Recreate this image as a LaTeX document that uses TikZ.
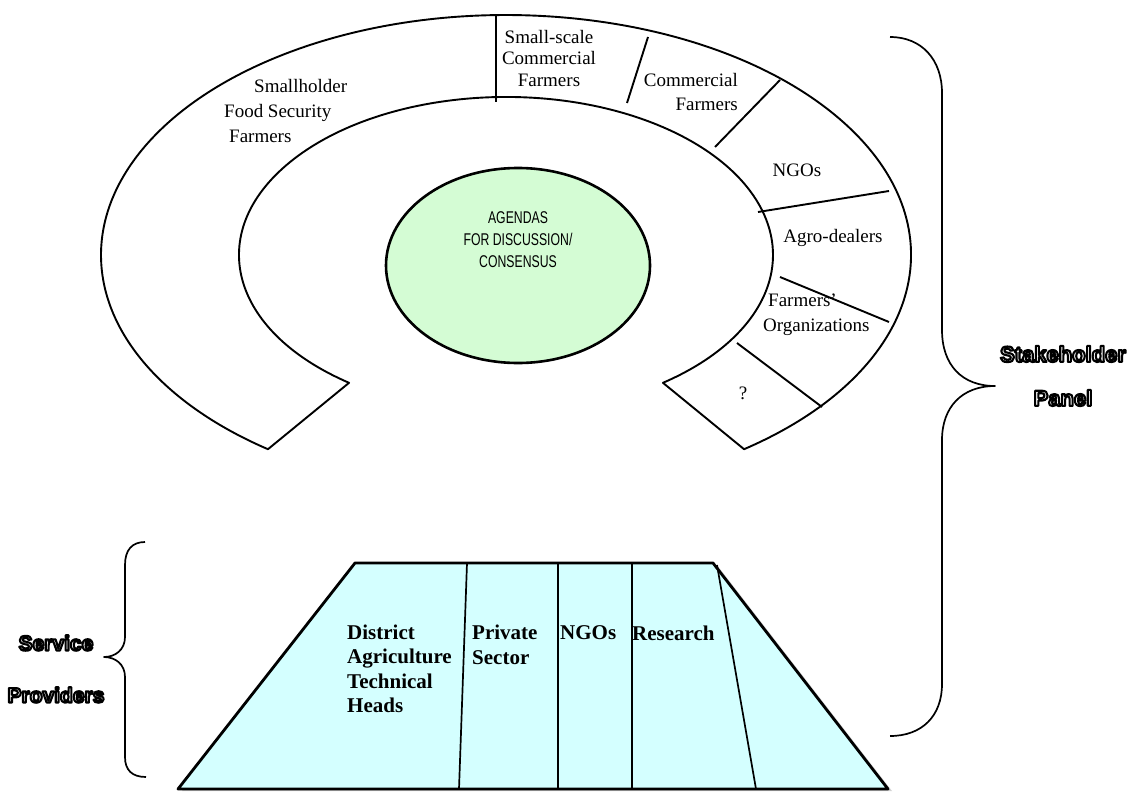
\documentclass[tikz,border=0pt]{standalone}
\usepackage{fontspec}
\setmainfont{Liberation Serif}
\newfontfamily\agfont[FakeStretch=0.72]{Liberation Sans}
\newfontfamily\outfont{Liberation Sans}
\usetikzlibrary{shapes.geometric,calc,shadows}
\definecolor{agendagreen}{RGB}{212,252,212}
\definecolor{trapcyan}{RGB}{212,255,255}
\newcommand\strokedtext[1]{\special{pdf:literal direct 1 Tr 2.1 w}#1\special{pdf:literal direct 0 Tr}}
\begin{document}
\begin{tikzpicture}[x=1pt, y=-1pt, line join=round,
  ringline/.style={draw, line width=1.9pt},
  ringtext/.style={font=\fontsize{19}{24}\selectfont, inner sep=0pt},
  traptext/.style={font=\fontsize{21}{24.5}\selectfont\bfseries, inner sep=0pt, align=left, anchor=west},
  outl/.style={font=\outfont\fontsize{22}{44}\selectfont\bfseries, align=center, inner sep=0pt},
  outlsvc/.style={font=\outfont\fontsize{21}{52}\selectfont\bfseries, align=center, inner sep=0pt},
  bracepath/.style={draw, line width=1.7pt}]
\useasboundingbox (0,0) rectangle (1131,792);

% horseshoe ring
\draw[ringline] (744.06,449.2) arc[start angle=-54, end angle=234, x radius=405pt, y radius=240pt]
  -- (349.06,382.8) arc[start angle=234, end angle=-54, x radius=267pt, y radius=158pt] -- cycle;

% dividers in the ring
\draw[ringline] (496,15) -- (496,102);
\draw[ringline] (648,37) -- (627,103);
\draw[ringline] (780,80) -- (715,147);
\draw[ringline] (889,191) -- (758,212);
\draw[ringline] (780,277) -- (889,322);
\draw[ringline] (737,343) -- (822,407);

% ring labels
\node[ringtext, align=left, anchor=west, font=\fontsize{19}{25}\selectfont] (smallholder) at (224,111)
  {\hspace*{30pt}Smallholder\\Food Security\\\hspace*{5pt}Farmers};
\node[ringtext, align=center, font=\fontsize{19}{21.5}\selectfont] (sscf) at (549,58.5) {Small-scale\\Commercial\\Farmers};
\node[ringtext, align=right, anchor=east] (cf) at (738,92) {Commercial\\Farmers};
\node[ringtext] (ngosring) at (797,170) {NGOs};
\node[ringtext] (agro) at (833,238) {Agro-dealers};
\node[ringtext, align=left, anchor=west, font=\fontsize{19}{25}\selectfont] (fo) at (763,315)
  {\hspace*{5pt}Farmers’\\Organizations};
\node[ringtext] (qmark) at (743,393) {?};

% central agenda ellipse
\node[draw, ellipse, fill=agendagreen, line width=2.6pt, minimum width=264pt, minimum height=195pt, inner sep=0pt] (agenda) at (518,265.5) {};
\node[font=\agfont\fontsize{17}{22}\selectfont, align=center, inner sep=0pt] (agendatext) at (518,240)
  {AGENDAS\\FOR DISCUSSION/\\CONSENSUS};

% service providers trapezoid
\draw[line width=2.8pt, fill=trapcyan, drop shadow={opacity=0.35, shadow xshift=4pt, shadow yshift=-2pt}]
  (178,789) -- (355,563) -- (713,563) -- (888,789) -- cycle;
\draw[line width=1.7pt] (467,563) -- (459,789);
\draw[line width=1.7pt] (558,563) -- (558,789);
\draw[line width=1.7pt] (632,563) -- (632,789);
\draw[line width=1.7pt] (717,565) -- (756,789);

\node[traptext] (district) at (347,669) {District\\Agriculture\\Technical\\Heads};
\node[traptext] (private) at (472,645) {Private\\Sector};
\node[traptext] (ngostrap) at (560,633) {NGOs};
\node[traptext] (research) at (632,633) {Research};

% braces
\draw[bracepath] (890,37) .. controls (922,37) and (942,60) .. (942,93) -- (942,330)
  .. controls (942,365) and (962,386) .. (995,386)
  .. controls (962,386) and (942,407) .. (942,440) -- (942,684)
  .. controls (942,716) and (922,736) .. (890,736);
\draw[bracepath] (145,542) .. controls (132,542) and (125,550) .. (125,565) -- (125,637)
  .. controls (125,650) and (115,657) .. (104,657)
  .. controls (115,657) and (125,664) .. (125,677) -- (125,757)
  .. controls (125,770) and (132,777) .. (146,777);

% outlined labels
\node[outl] (stakeholder) at (1063,376) {\strokedtext{Stakeholder\\Panel}};
\node[outlsvc] (service) at (56,669) {\strokedtext{Service\\Providers}};
\end{tikzpicture}
\end{document}
